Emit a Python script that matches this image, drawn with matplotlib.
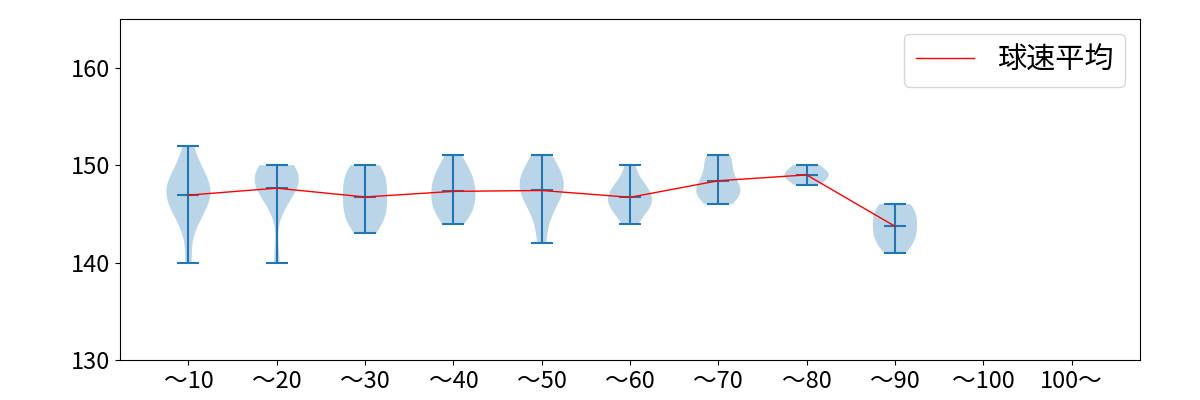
import matplotlib
matplotlib.use("Agg")
import matplotlib.pyplot as plt

plt.rcParams['font.family'] = ['Noto Sans CJK JP', 'DejaVu Sans']

labels = ['〜10', '〜20', '〜30', '〜40', '〜50', '〜60', '〜70', '〜80', '〜90', '〜100', '100〜']

# 球速 per 球数帯
speeds = [
    [140, 144, 145, 146, 146, 147, 147, 148, 148, 148, 149, 150, 152],
    [140, 146, 147, 148, 148, 148, 149, 149, 149, 150, 150],
    [143, 144, 144, 145, 145, 146, 146, 147, 147, 148, 148, 149, 149, 150, 150],
    [144, 145, 145, 146, 146, 147, 147, 148, 148, 149, 149, 150, 151],
    [142, 145, 146, 147, 148, 148, 148, 149, 150, 151],
    [144, 145, 146, 146, 146, 147, 147, 148, 148, 150],
    [146, 147, 147, 147, 148, 148, 149, 150, 151, 151],
    [148, 149, 149, 150],
    [141, 142, 142, 143, 143, 144, 144, 145, 145, 146, 146],
]

pos = list(range(1, len(speeds) + 1))
means = [sum(v) / len(v) for v in speeds]

fig = plt.figure(figsize=(12, 4), dpi=100)
ax = fig.add_axes([0.1, 0.1, 0.85, 0.8525])

ax.violinplot(speeds, positions=pos, showmeans=True, showextrema=True)
ax.plot(pos, means, color='red', lw=1, label='球速平均')

ax.set_xticks(range(1, len(labels) + 1))
ax.set_xticklabels(labels, fontsize=17)
ax.tick_params(axis='y', labelsize=17)
ax.set_xlim(0.225, 11.775)
ax.set_ylim(130, 165)
ax.set_yticks([130, 140, 150, 160])
ax.legend(loc='upper right', fontsize=21)

fig.savefig('out.png')
